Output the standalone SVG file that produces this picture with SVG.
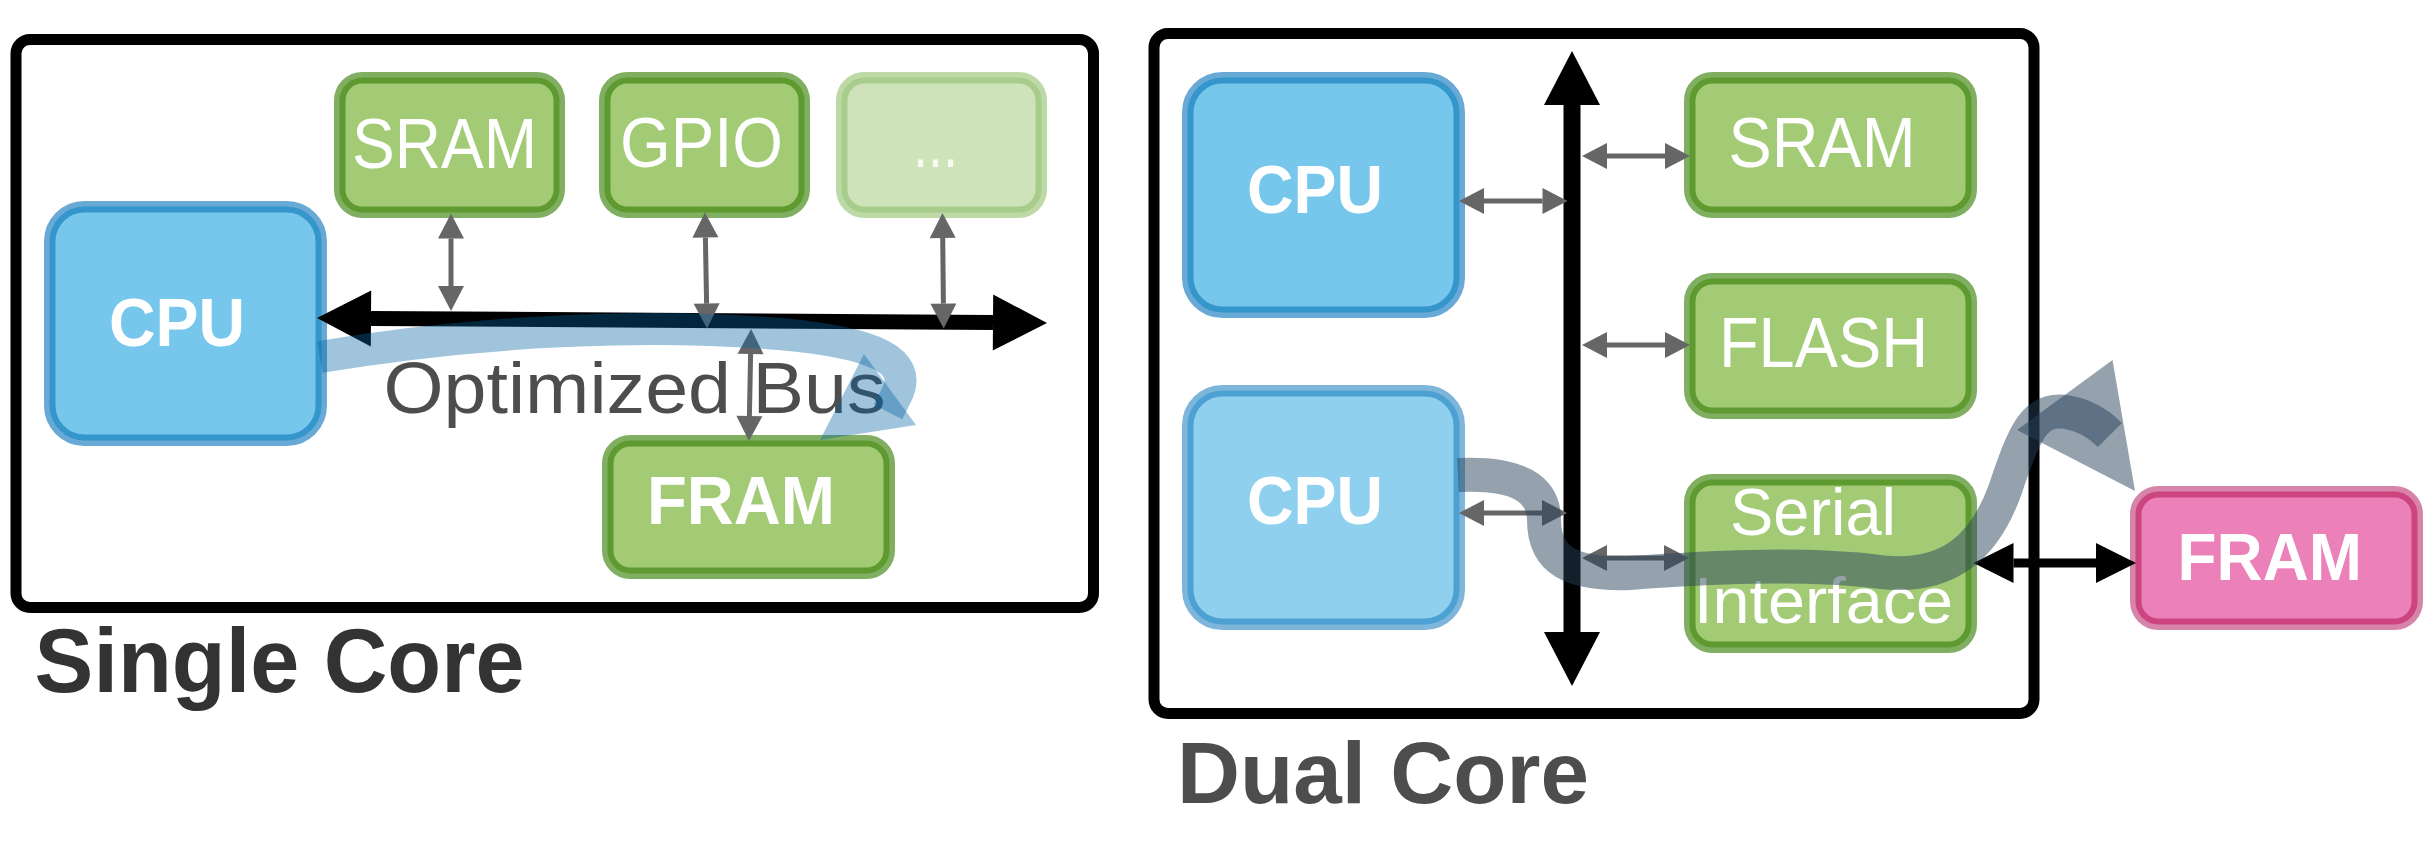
<svg xmlns="http://www.w3.org/2000/svg" width="2427" height="852" viewBox="0 0 2427 852">
<style>
.frame{fill:#fff;stroke:#000;stroke-width:11}
.halo{stroke-width:11}
.bd{stroke-width:6}
.g .halo{fill:none;stroke:#80af62}
.g .bd{fill:#a3cb76;stroke:#5e9a30}
.gl .halo{fill:none;stroke:#bcd9a6}
.gl .bd{fill:#cfe3ba;stroke:#a7cc8b}
.b1 .halo{fill:none;stroke:#68a9d6}
.b1 .bd{fill:#77c6ec;stroke:#3596cc}
.b2 .halo{fill:none;stroke:#7db6da}
.b2 .bd{fill:#90d0ef;stroke:#4ca1d2}
.p .halo{fill:none;stroke:#d684aa}
.p .bd{fill:#ec80b8;stroke:#cc4480}
text{font-family:"Liberation Sans",Arial,sans-serif}
.lbl{fill:#fff;font-size:70px}
.lblb{fill:#fff;font-size:68px;font-weight:bold}
.gray{stroke:#666;stroke-width:5;fill:none}
.blk{stroke:#000;fill:none}
.title{font-weight:bold;font-size:90px}
</style>
<defs>
<marker id="mBus" markerUnits="userSpaceOnUse" markerWidth="56" markerHeight="56" refX="0" refY="28" orient="auto-start-reverse" overflow="visible"><path d="M0,0 L54,28 L0,56 z" fill="#000"/></marker>
<marker id="mLink" markerUnits="userSpaceOnUse" markerWidth="42" markerHeight="42" refX="0" refY="20" orient="auto-start-reverse" overflow="visible"><path d="M0,0 L40,20 L0,40 z" fill="#000"/></marker>
<marker id="mGray" markerUnits="userSpaceOnUse" markerWidth="26" markerHeight="26" refX="0" refY="13" orient="auto-start-reverse" overflow="visible"><path d="M0,0 L25,13 L0,26 z" fill="#666"/></marker>
</defs>
<rect width="2427" height="852" fill="#fff"/>

<g id="frames">
<rect class="frame" x="16" y="39.5" width="1077.5" height="568" rx="14"/>
<rect class="frame" x="1154" y="33.5" width="880" height="680" rx="14"/>
</g>

<g id="s-cpu" class="b1">
<rect class="halo" x="49.5" y="206.5" width="272" height="234" rx="35"/>
<rect class="bd" x="52.5" y="209.5" width="266" height="228" rx="32"/>
<text class="lblb" x="109" y="346" textLength="136" lengthAdjust="spacingAndGlyphs">CPU</text>
</g>
<g id="s-sram" class="g">
<rect class="halo" x="339.5" y="77.5" width="220" height="135" rx="23"/>
<rect class="bd" x="342.5" y="80.5" width="214" height="129" rx="20"/>
<text class="lbl" x="352" y="168" textLength="185" lengthAdjust="spacingAndGlyphs">SRAM</text>
</g>
<g id="s-gpio" class="g">
<rect class="halo" x="604.5" y="77.5" width="200" height="135" rx="23"/>
<rect class="bd" x="607.5" y="80.5" width="194" height="129" rx="20"/>
<text class="lbl" x="620" y="167" textLength="163" lengthAdjust="spacingAndGlyphs">GPIO</text>
</g>
<g id="s-more" class="gl">
<rect class="halo" x="841.5" y="77.5" width="200" height="135" rx="23"/>
<rect class="bd" x="844.5" y="80.5" width="194" height="129" rx="20"/>
<text class="lbl" x="913" y="167" textLength="45" lengthAdjust="spacingAndGlyphs" fill-opacity="0.8">...</text>
</g>
<g id="s-fram" class="g">
<rect class="halo" x="607.5" y="440.5" width="282" height="133" rx="23"/>
<rect class="bd" x="610.5" y="443.5" width="276" height="127" rx="20"/>
<text class="lblb" x="647" y="524" textLength="188" lengthAdjust="spacingAndGlyphs">FRAM</text>
</g>

<g id="d-cpu1" class="b1">
<rect class="halo" x="1187.5" y="77.5" width="272" height="235" rx="35"/>
<rect class="bd" x="1190.5" y="80.5" width="266" height="229" rx="32"/>
<text class="lblb" x="1247" y="212.5" textLength="136" lengthAdjust="spacingAndGlyphs">CPU</text>
</g>
<g id="d-cpu2" class="b2">
<rect class="halo" x="1187.5" y="390.5" width="272" height="234" rx="35"/>
<rect class="bd" x="1190.5" y="393.5" width="266" height="228" rx="32"/>
<text class="lblb" x="1247" y="524" textLength="136" lengthAdjust="spacingAndGlyphs">CPU</text>
</g>
<g id="d-sram" class="g">
<rect class="halo" x="1689.5" y="77.5" width="282" height="135" rx="23"/>
<rect class="bd" x="1692.5" y="80.5" width="276" height="129" rx="20"/>
<text class="lbl" x="1728.6" y="167" textLength="187" lengthAdjust="spacingAndGlyphs">SRAM</text>
</g>
<g id="d-flash" class="g">
<rect class="halo" x="1689.5" y="278.5" width="282" height="135" rx="23"/>
<rect class="bd" x="1692.5" y="281.5" width="276" height="129" rx="20"/>
<text class="lbl" x="1719" y="367" textLength="209" lengthAdjust="spacingAndGlyphs">FLASH</text>
</g>
<g id="d-serial" class="g">
<rect class="halo" x="1689.5" y="479.5" width="282" height="168" rx="23"/>
<rect class="bd" x="1692.5" y="482.5" width="276" height="162" rx="20"/>
<text class="lbl" x="1730" y="535" textLength="166" lengthAdjust="spacingAndGlyphs" style="font-size:66px">Serial</text>
<text class="lbl" x="1694" y="623" textLength="259" lengthAdjust="spacingAndGlyphs" style="font-size:64px">Interface</text>
</g>
<g id="d-fram" class="p">
<rect class="halo" x="2135.5" y="491.5" width="282" height="133" rx="23"/>
<rect class="bd" x="2138.5" y="494.5" width="276" height="127" rx="20"/>
<text class="lblb" x="2177.5" y="580" textLength="184.5" lengthAdjust="spacingAndGlyphs" style="font-size:67px">FRAM</text>
</g>

<g id="connectors">
<line class="blk" x1="371" y1="318.4" x2="993" y2="322.6" stroke-width="15" marker-start="url(#mBus)" marker-end="url(#mBus)"/>
<line class="gray" x1="451" y1="238.5" x2="451" y2="286" marker-start="url(#mGray)" marker-end="url(#mGray)"/>
<line class="gray" x1="705.4" y1="237.5" x2="706.6" y2="303.6" marker-start="url(#mGray)" marker-end="url(#mGray)"/>
<line class="gray" x1="942.7" y1="238" x2="943.4" y2="303.6" marker-start="url(#mGray)" marker-end="url(#mGray)"/>
<line class="gray" x1="750.6" y1="354" x2="749.4" y2="416" marker-start="url(#mGray)" marker-end="url(#mGray)"/>
<line class="blk" x1="1572" y1="105" x2="1572" y2="632" stroke-width="17" marker-start="url(#mBus)" marker-end="url(#mBus)"/>
<line class="gray" x1="1484" y1="201" x2="1542.5" y2="201" marker-start="url(#mGray)" marker-end="url(#mGray)"/>
<line class="gray" x1="1607" y1="156" x2="1665" y2="156" marker-start="url(#mGray)" marker-end="url(#mGray)"/>
<line class="gray" x1="1607" y1="345" x2="1665" y2="345" marker-start="url(#mGray)" marker-end="url(#mGray)"/>
<line class="gray" x1="1484" y1="513" x2="1542" y2="513" marker-start="url(#mGray)" marker-end="url(#mGray)"/>
<line class="gray" x1="1607" y1="558" x2="1664" y2="558" marker-start="url(#mGray)" marker-end="url(#mGray)"/>
<line class="blk" x1="2013.5" y1="563" x2="2096" y2="563" stroke-width="9" marker-start="url(#mLink)" marker-end="url(#mLink)"/>
</g>

<g id="labels">
<text x="383.5" y="413" font-size="72" fill="#4d4d4d" textLength="502" lengthAdjust="spacingAndGlyphs">Optimized Bus</text>
<text class="title" x="34.6" y="692" fill="#333" textLength="490" lengthAdjust="spacingAndGlyphs">Single Core</text>
<text class="title" x="1177" y="803" fill="#4d4d4d" font-size="88" style="font-size:88px" textLength="412" lengthAdjust="spacingAndGlyphs">Dual Core</text>
</g>

<g id="flows">
<g opacity="0.38" fill="#0564a0">
<path d="M320,357 C470,332 640,322 780,334 C880,343 910,362 898,392 L888,412" fill="none" stroke="#0564a0" stroke-width="32"/>
</g>
<polygon points="864,354 916,425 820,440" fill="#0564a0" fill-opacity="0.38"/>
<path d="M1458,475 C1520,472 1544,490 1544,520 C1544,560 1570,575 1630,573 C1700,568 1800,562 1880,572 C1950,580 1985,545 2005,490 C2025,430 2035,408 2066,412 C2085,415 2100,425 2110,435" fill="none" stroke="#27415a" stroke-opacity="0.49" stroke-width="34"/>
<polygon points="2017,430 2112.5,360 2135,491" fill="#27415a" fill-opacity="0.49"/>
</g>
</svg>
